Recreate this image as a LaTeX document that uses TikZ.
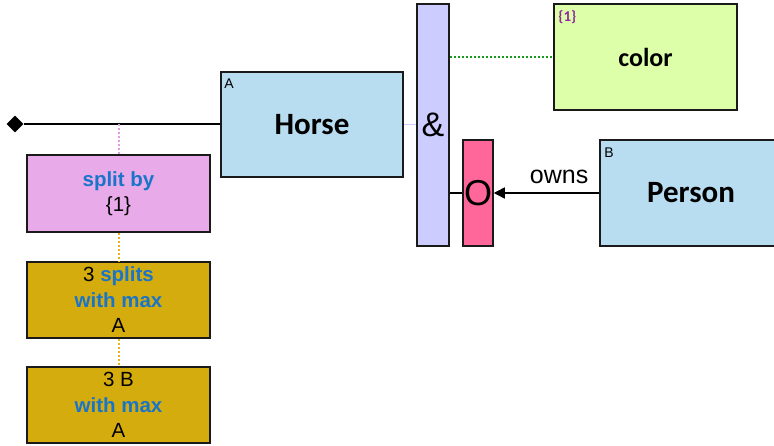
\documentclass[tikz,border=0pt]{standalone}
\usepackage{fontspec}
\setmainfont{Liberation Sans}
\newfontfamily\calfont{Carlito}
\usetikzlibrary{shapes.geometric,arrows.meta,calc}
\definecolor{horsec}{HTML}{B8DCF0}
\definecolor{splitc}{HTML}{E8AAE8}
\definecolor{goldc}{HTML}{D4AC0D}
\definecolor{lavc}{HTML}{CCCCFF}
\definecolor{greenc}{HTML}{DDFFAA}
\definecolor{redc}{HTML}{FF6699}
\definecolor{bluetext}{HTML}{1A75C8}
\definecolor{bordc}{HTML}{1A1A1A}
\definecolor{purpc}{HTML}{8E2A9E}
\definecolor{pinkdot}{HTML}{E49AE4}
\definecolor{golddot}{HTML}{E6B414}
\definecolor{greendot}{HTML}{1A9A1A}
\begin{document}
\begin{tikzpicture}[x=1pt,y=-1pt,
  box/.style={draw=bordc, line width=1.5pt, inner sep=0pt, align=center},
  bigtxt/.style={font=\calfont\bfseries\fontsize{31}{36}\selectfont},
  midtxt/.style={font=\fontsize{20.5}{25.5}\selectfont},
  tag/.style={font=\fontsize{14}{16}\selectfont, inner sep=0pt, anchor=north west},
  dotline/.style={line width=2pt, dash pattern=on 2pt off 2pt}]
\useasboundingbox (0,0) rectangle (774,446);
\clip (0,0) rectangle (774,446);
\newcommand{\bt}[1]{\textcolor{bluetext}{\bfseries #1}}
% boxes
\node[box, fill=horsec, minimum width=182pt, minimum height=105pt, bigtxt] (horse) at (312,124.5) {Horse};
\node[tag] (horsetag) at ($(horse.north west)+(4,7)$) {A};
\node[box, fill=splitc, minimum width=183pt, minimum height=77pt, midtxt] (split) at (118.5,193.5) {\bt{split by}\\\{1\}};
\node[box, fill=goldc, minimum width=183pt, minimum height=76pt, midtxt] (cap1) at (118.5,300) {3 \bt{splits}\\\bt{with max}\\A};
\node[box, fill=goldc, minimum width=183pt, minimum height=76pt, midtxt] (cap2) at (118.5,405) {3 B\\\bt{with max}\\A};
\node[box, fill=lavc, minimum width=32pt, minimum height=242pt, font=\fontsize{34}{40}\selectfont] (amp) at (433,125) {\raisebox{-5pt}{\&}};
\node[box, fill=redc, minimum width=30pt, minimum height=106pt, font=\fontsize{36}{42}\selectfont] (obar) at (478,193) {O};
\node[box, fill=greenc, minimum width=183pt, minimum height=106pt, font=\calfont\bfseries\fontsize{26}{30}\selectfont] (color) at (645.5,57) {color};
\node[tag, font=\calfont\bfseries\fontsize{15}{17}\selectfont, text=purpc] (colortag) at ($(color.north west)+(5,7)$) {\{1\}};
\node[box, fill=horsec, minimum width=182pt, minimum height=106pt, bigtxt] (person) at (691,193) {Person};
\node[tag] (persontag) at ($(person.north west)+(5,8)$) {B};
% diamond start
\node[diamond, fill=black, inner sep=0pt, minimum width=17pt, minimum height=17pt] (dia) at (15,124) {};
\draw[line width=1.5pt, black] (dia.east) -- (dia.east -| horse.west);
\coordinate (j1) at (split.north |- dia);
\draw[dotline, pinkdot] (split.north) -- (j1);
\draw[dotline, golddot] (split.south) -- (cap1.north);
\draw[dotline, golddot] (cap1.south) -- (cap2.north);
\draw[line width=1.5pt, lavc] (horse.east) -- (horse.east -| amp.west);
\draw[dotline, greendot] (color.west -| amp.east) -- (color.west);
\draw[line width=1.5pt, black] (obar.west -| amp.east) -- (obar.west);
\draw[line width=1.5pt, black, -{Triangle[length=11pt,width=11pt]}] (person.west) -- node[pos=0.38, above=9pt, font=\fontsize{25}{29}\selectfont, inner sep=0pt] (owns) {owns} (obar.east);
\end{tikzpicture}
\end{document}
